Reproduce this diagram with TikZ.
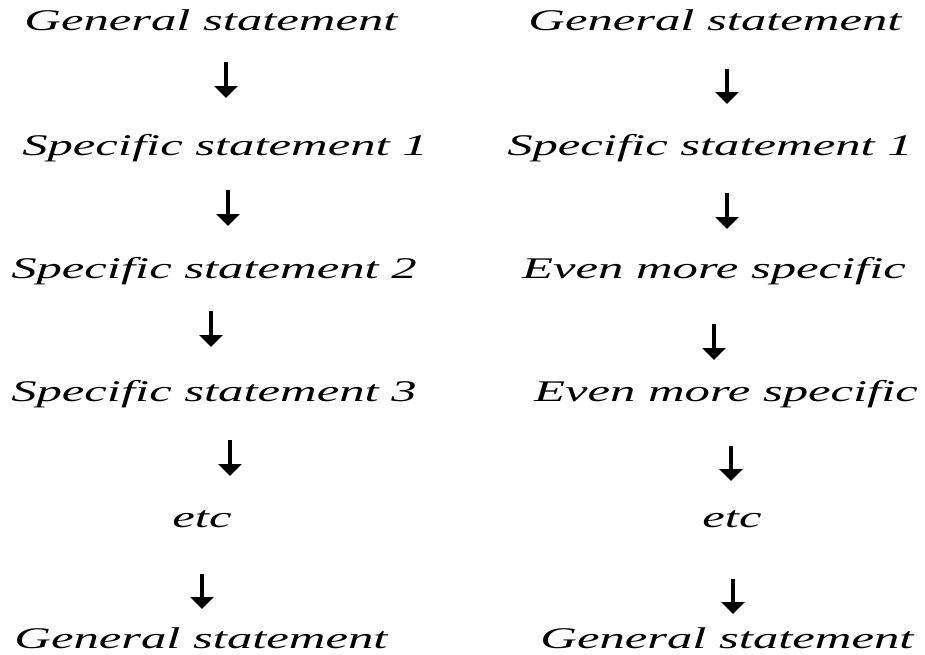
\documentclass[tikz,border=0pt]{standalone}
\usepackage{fontspec}
\newfontfamily\stmfont[FakeStretch=1.69]{Liberation Serif}
\usetikzlibrary{arrows.meta}
\tikzset{
  lbl/.style={anchor=base, inner sep=0pt, font=\stmfont\itshape\fontsize{30}{36}\selectfont},
  darr/.style={line width=3.4pt, -{Triangle[width=23pt,length=12pt]}}
}
\begin{document}
\begin{tikzpicture}[x=1pt,y=-1pt]
\useasboundingbox (0,0) rectangle (925,654);
% left column
\node[lbl] (l1) at (211,30) {General statement};
\node[lbl] (l2) at (225,155) {Specific statement 1};
\node[lbl] (l3) at (214,278) {Specific statement 2};
\node[lbl] (l4) at (214,401) {Specific statement 3};
\node[lbl] (l5) at (202,527) {etc};
\node[lbl] (l6) at (201,648) {General statement};
% right column
\node[lbl] (r1) at (715,30) {General statement};
\node[lbl] (r2) at (710,155) {Specific statement 1};
\node[lbl] (r3) at (714,278) {Even more specific};
\node[lbl] (r4) at (726,401) {Even more specific};
\node[lbl] (r5) at (732,527) {etc};
\node[lbl] (r6) at (727,648) {General statement};
% arrow end points
\coordinate (la1) at (226,62);  \coordinate (lb1) at (226,98);
\coordinate (la2) at (228,190); \coordinate (lb2) at (228,226);
\coordinate (la3) at (211,311); \coordinate (lb3) at (211,347);
\coordinate (la4) at (230,440); \coordinate (lb4) at (230,476);
\coordinate (la5) at (202,574); \coordinate (lb5) at (202,609);
\coordinate (ra1) at (727,69);  \coordinate (rb1) at (727,104);
\coordinate (ra2) at (727,193); \coordinate (rb2) at (727,229);
\coordinate (ra3) at (714,324); \coordinate (rb3) at (714,360);
\coordinate (ra4) at (731,446); \coordinate (rb4) at (731,481);
\coordinate (ra5) at (733,579); \coordinate (rb5) at (733,614);
\foreach \i in {1,...,5}{
  \draw[darr] (la\i) -- (lb\i);
  \draw[darr] (ra\i) -- (rb\i);
}
\end{tikzpicture}
\end{document}
